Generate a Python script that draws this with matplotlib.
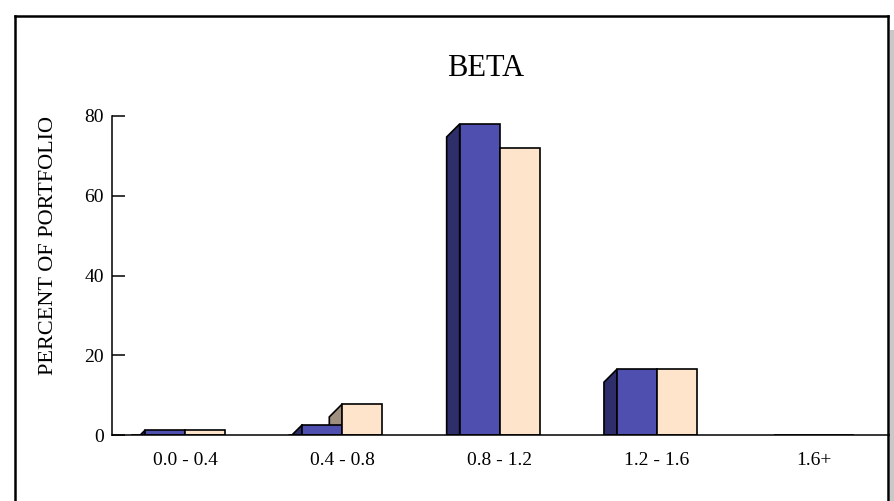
import numpy as np
import matplotlib.pyplot as plt
from matplotlib.patches import Polygon
from matplotlib.lines import Line2D

# data
categories = ["0.0 - 0.4", "0.4 - 0.8", "0.8 - 1.2", "1.2 - 1.6", "1.6+"]
series_a = [1.2, 2.6, 78.0, 16.5, 0.0]
series_b = [1.2, 7.8, 72.0, 16.5, 0.0]
y_ticks = [0, 20, 40, 60, 80]

blue = "#4F4FB0"
blue_side = "#2E2E6B"
tan = "#FFE4CC"
tan_side = "#9E8F7E"

plt.rcParams["font.family"] = ["Liberation Serif", "DejaVu Serif"]

W, H = 894, 501
fig = plt.figure(figsize=(W / 100, H / 100), dpi=100)

# axes box in pixels: left 112, right 891, baseline 435, top (80) 116
ax = fig.add_axes([112 / W, (H - 435) / H, (891 - 112) / W, (435 - 116) / H])
xlim = (-0.464, 4.488)
ax.set_xlim(*xlim)
ax.set_ylim(0, 80)

x = np.arange(len(categories))
w = 0.254
depth = 13  # px
dx = depth * (xlim[1] - xlim[0]) / (891 - 112)
dy = depth * 80 / (435 - 116)

def side(xl, top, color, z):
    pts = [(xl - dx, 0), (xl - dx, top - dy), (xl, top), (xl, 0)]
    ax.add_patch(Polygon(pts, closed=True, facecolor=color, edgecolor="black",
                         linewidth=1.2, zorder=z))

for i in range(len(categories)):
    if series_b[i] > 0:
        side(x[i], series_b[i], tan_side, 2)
    if series_a[i] > 0:
        side(x[i] - w, series_a[i], blue_side, 3)

ax.bar(x - w / 2, series_a, w, color=blue, edgecolor="black", linewidth=1.2, zorder=3)
ax.bar(x + w / 2, series_b, w, color=tan, edgecolor="black", linewidth=1.2, zorder=3)

ax.set_xticks(x)
ax.set_xticklabels(categories, fontsize=14)
ax.set_yticks(y_ticks)
ax.set_yticklabels([str(v) for v in y_ticks], fontsize=14)
ax.tick_params(axis="x", length=0, pad=12)
ax.tick_params(axis="y", direction="in", length=9.4, width=1.1, pad=6)

ax.spines["top"].set_visible(False)
ax.spines["right"].set_visible(False)
ax.spines["left"].set_linewidth(1.1)
ax.spines["bottom"].set_linewidth(1.1)
ax.spines["left"].set_zorder(4)
ax.spines["bottom"].set_zorder(4)
ax.patch.set_visible(False)

# titles
fig.text(486 / W, 1 - 76 / H, "BETA", fontsize=22, ha="center", va="baseline")
fig.text(53 / W, 1 - 245.5 / H, "PERCENT OF PORTFOLIO", fontsize=16, rotation=90,
         rotation_mode="anchor", ha="center", va="baseline")

# outer frame with a grey shadow on the right
def fline(xs, ys, color="black", lw=1.8):
    fig.add_artist(Line2D([v / W for v in xs], [1 - v / H for v in ys],
                          color=color, linewidth=lw, transform=fig.transFigure))

fig.add_artist(plt.Rectangle((890 / W, 0), 4 / W, 1 - 30 / H, transform=fig.transFigure,
                             facecolor="#C8C8C8", edgecolor="none"))
fline([15, 15], [16, 501])
fline([15, 888], [16, 16])
fline([888, 888], [16, 501])

fig.savefig("out.png", dpi=100)
